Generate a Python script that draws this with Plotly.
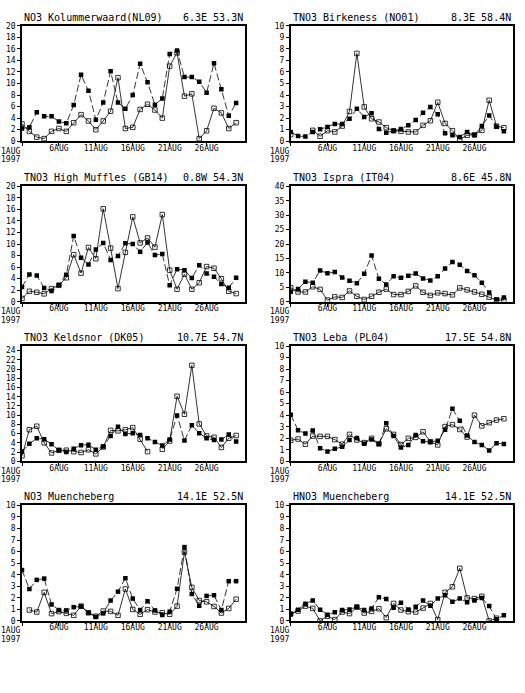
import plotly.graph_objects as go
import pandas as pd

dates = pd.date_range("1997-08-01", periods=30, freq="D")

titles_left = ["NO3 Kolummerwaard(NL09)", "TNO3 Birkeness (NO01)",
               "TNO3 High Muffles (GB14)", "TNO3 Ispra (IT04)",
               "TNO3 Keldsnor (DK05)", "TNO3 Leba (PL04)",
               "NO3 Muencheberg", "HNO3 Muencheberg"]
titles_right = ["6.3E 53.3N", "8.3E 58.4N", "0.8W 54.3N", "8.6E 45.8N",
                "10.7E 54.7N", "17.5E 54.8N", "14.1E 52.5N", "14.1E 52.5N"]

# filled squares, dashed line
filled = [
    [2.2, 2.4, 5.0, 4.3, 4.3, 3.4, 3.1, 6.25, 11.5, 8.75, 3.7, 6.7, 12.1, 6.7, 5.6,
     8.0, 13.4, 10.2, 6.3, 7.4, 15.1, 15.7, 11.1, 11.1, 10.3, 8.4, 13.5, 9.0, 4.4, 6.6],
    [0.8, 0.46, 0.4, 0.8, 1.03, 1.23, 1.49, 1.49, 1.94, 2.8, 2.09, 2.43, 1.06, 0.74, 0.91,
     1.06, 1.37, 1.83, 2.46, 2.97, 2.34, 0.69, 0.51, 0.37, 0.8, 0.51, 1.31, 2.23, 1.26, 0.86],
    [2.56, 4.73, 4.56, 2.39, 1.88, 2.9, 4.67, 11.4, 7.63, 6.44, 9.06, 10.2, 7.24, 7.92, 10.14,
     10.0, 8.66, 10.26, 8.09, 8.26, 2.85, 5.64, 5.47, 4.1, 6.32, 4.9, 4.33, 3.08, 2.45, 4.16],
    [3.5, 4.4, 6.95, 6.6, 10.8, 9.9, 10.3, 8.4, 7.3, 6.4, 9.7, 16.0, 8.0, 6.0, 8.8,
     8.3, 9.0, 9.8, 8.1, 7.4, 8.8, 11.5, 13.8, 12.8, 10.7, 9.2, 6.6, 3.2, 0.8, 1.5],
    [2.1, 3.8, 5.0, 4.8, 3.7, 2.4, 2.0, 2.7, 3.5, 3.6, 2.5, 3.2, 5.5, 7.5, 5.9,
     6.1, 5.7, 5.0, 4.2, 3.4, 4.7, 9.95, 4.5, 7.8, 6.1, 5.0, 4.6, 4.7, 5.8, 4.3],
    [4.03, 2.7, 2.41, 2.67, 1.14, 0.85, 1.08, 1.25, 1.85, 2.02, 1.53, 1.88, 1.48, 3.3, 2.19,
     1.19, 1.42, 2.27, 1.73, 1.68, 1.79, 2.73, 4.55, 3.52, 2.24, 1.68, 1.42, 0.94, 1.56, 1.5],
    [4.4, 2.76, 3.55, 3.66, 1.42, 0.94, 0.91, 1.19, 1.25, 0.71, 0.34, 0.65, 1.76, 2.53, 3.69,
     1.93, 0.94, 1.7, 0.91, 0.51, 0.8, 2.78, 6.39, 2.33, 1.31, 2.16, 2.22, 0.94, 3.44, 3.44],
    [0.57, 0.97, 1.48, 1.76, 0.97, 0.54, 0.74, 0.94, 0.99, 1.22, 0.94, 1.08, 2.05, 1.9, 1.14,
     1.56, 0.99, 1.22, 1.76, 1.31, 1.93, 2.22, 1.65, 1.93, 1.62, 1.76, 1.99, 1.28, 0.14, 0.48],
]

# open squares, solid line
opened = [
    [3.0, 1.7, 0.7, 0.45, 1.7, 2.2, 1.7, 3.2, 4.6, 3.5, 2.0, 3.5, 5.2, 11.0, 2.2,
     2.4, 5.5, 6.4, 5.4, 4.0, 13.0, 15.3, 7.8, 8.2, 0.45, 1.8, 5.7, 4.9, 2.2, 3.2],
    [0.57, None, None, 0.94, 0.43, 0.91, 0.8, 1.31, 2.57, 7.6, 2.97, 1.94, 1.66, 1.17, 0.9,
     0.86, 0.8, 0.8, 1.37, 1.77, 3.37, 1.54, 0.91, 0.17, 0.51, 0.57, 0.94, 3.54, 1.3, 1.17],
    [0.57, 1.82, 1.65, 1.37, 2.28, 2.85, 4.16, 8.15, 4.96, 9.4, 7.46, 16.1, 9.29, 2.28, 8.55,
     14.7, 10.2, 11.05, 9.46, 15.1, 5.47, 2.17, 4.79, 2.17, 3.3, 6.1, 5.81, 3.99, 1.82, 1.42],
    [4.9, 3.4, 3.4, 5.2, 4.3, 0.6, 1.7, 1.5, 3.76, 1.9, 0.8, 1.9, 3.3, 4.4, 2.5,
     2.5, 3.6, 5.5, 3.3, 2.2, 3.1, 2.85, 2.4, 4.8, 4.1, 3.4, 2.6, 1.6, 0.6, 0.6],
    [1.2, 6.85, 7.6, 4.0, 1.8, 2.4, 2.4, 2.1, 1.9, 2.5, 1.6, 3.1, 6.7, 6.6, 6.85,
     7.3, 4.8, 2.1, None, 2.6, 4.4, 14.1, 10.2, 20.8, 8.1, 5.5, 5.2, 3.0, 5.0, 5.6],
    [1.82, 1.93, 1.48, 2.19, 2.16, 2.16, 1.88, 1.48, 2.33, 1.85, 1.62, 1.99, 1.53, 2.81, 2.33,
     1.45, 1.99, 2.07, 2.56, 1.7, 1.42, 3.01, 3.18, 2.76, 2.1, 4.0, 3.07, 3.35, 3.58, 3.69],
    [None, 0.94, 0.77, 2.47, 0.63, 0.8, 0.65, 0.48, 1.28, 0.7, 0.4, 0.85, 0.82, 0.48, 2.76,
     0.99, 0.57, 0.97, 0.77, 0.71, 0.57, 1.28, 5.97, 2.9, 1.76, 1.65, 1.25, 0.68, 1.08, 1.88],
    [0.6, 0.85, 1.28, 1.08, 0.0, 0.4, 0.11, 0.77, 0.63, 1.19, 0.68, 0.82, 1.05, 0.28, 1.51,
     0.94, 0.8, 0.77, 1.11, 1.51, 0.11, 2.47, 2.95, 4.55, 1.99, 1.93, 2.13, 0.0, 0.23, None],
]

y_max = [20, 10, 20, 40, 25, 10, 10, 10]
y_step = [2, 1, 2, 5, 2, 1, 1, 1]
y_tick_top = [20, 10, 20, 40, 24, 10, 10, 10]

xtick_dates = ["1997-08-01", "1997-08-06", "1997-08-11", "1997-08-16",
               "1997-08-21", "1997-08-26"]
xtick_text = ["", "6AUG", "11AUG", "16AUG", "21AUG", "26AUG"]
first_tick_label = "1AUG"
year_label = "1997"

W, H = 525, 693
col_px = [(22, 245), (290.7, 512.7)]
row_px = [(22, 139), (184.7, 301.7), (346.5, 463.3), (508, 625)]

fig = go.Figure()
mono = "DejaVu Sans Mono"

for i in range(8):
    r, c = divmod(i, 2)
    k = "" if i == 0 else str(i + 1)
    xa, ya = "x" + k, "y" + k
    fig.add_trace(go.Scatter(
        x=dates, y=opened[i], xaxis=xa, yaxis=ya, mode="lines+markers",
        line=dict(color="black", width=0.8),
        marker=dict(symbol="square-open", size=4.5, color="black", line=dict(width=0.8)),
        showlegend=False, connectgaps=False))
    fig.add_trace(go.Scatter(
        x=dates, y=filled[i], xaxis=xa, yaxis=ya, mode="lines+markers",
        line=dict(color="black", width=0.8, dash="7px,3px"),
        marker=dict(symbol="square", size=4.5, color="black"),
        showlegend=False))
    x0, x1 = col_px[c]
    t, b = row_px[r]
    axis_common = dict(showline=True, linecolor="black", linewidth=1.5, mirror=True,
                       showgrid=False, zeroline=False, ticks="outside", ticklen=3,
                       tickwidth=1, tickcolor="black",
                       tickfont=dict(family=mono, size=8, color="black"))
    fig.layout["xaxis" + k] = dict(
        domain=[x0 / W, x1 / W], anchor=ya, type="date",
        range=["1997-08-01", "1997-08-31 04:48"], ticklabelstandoff=-5,
        tickvals=xtick_dates, ticktext=xtick_text, **axis_common)
    fig.layout["yaxis" + k] = dict(
        domain=[1 - b / H, 1 - t / H], anchor=xa, range=[0, y_max[i]],
        tickvals=list(range(0, y_tick_top[i] + 1, y_step[i])), ticklabelstandoff=0,
        **axis_common)
    fig.add_annotation(text=titles_left[i], xref=xa + " domain", yref=ya + " domain",
                       x=0, y=1, xanchor="left", yanchor="bottom", yshift=1, showarrow=False,
                       font=dict(family=mono, size=10, color="black"))
    fig.add_annotation(text=titles_right[i], xref=xa + " domain", yref=ya + " domain",
                       x=1, y=1, xanchor="right", yanchor="bottom", yshift=1, showarrow=False,
                       font=dict(family=mono, size=10, color="black"))
    fig.add_annotation(text=first_tick_label, xref=xa + " domain", yref=ya + " domain",
                       x=0, y=0, xanchor="right", yanchor="top", xshift=-1, yshift=-4.5,
                       borderpad=0, showarrow=False,
                       font=dict(family=mono, size=8, color="black"))
    fig.add_annotation(text=year_label, xref=xa + " domain", yref=ya + " domain",
                       x=0, y=0, xanchor="right", yanchor="top", xshift=-1, yshift=-13,
                       borderpad=0, showarrow=False,
                       font=dict(family=mono, size=8, color="black"))

fig.update_layout(width=W, height=H, margin=dict(l=0, r=0, t=0, b=0),
                  paper_bgcolor="white", plot_bgcolor="white")

fig.write_html("out.html")
